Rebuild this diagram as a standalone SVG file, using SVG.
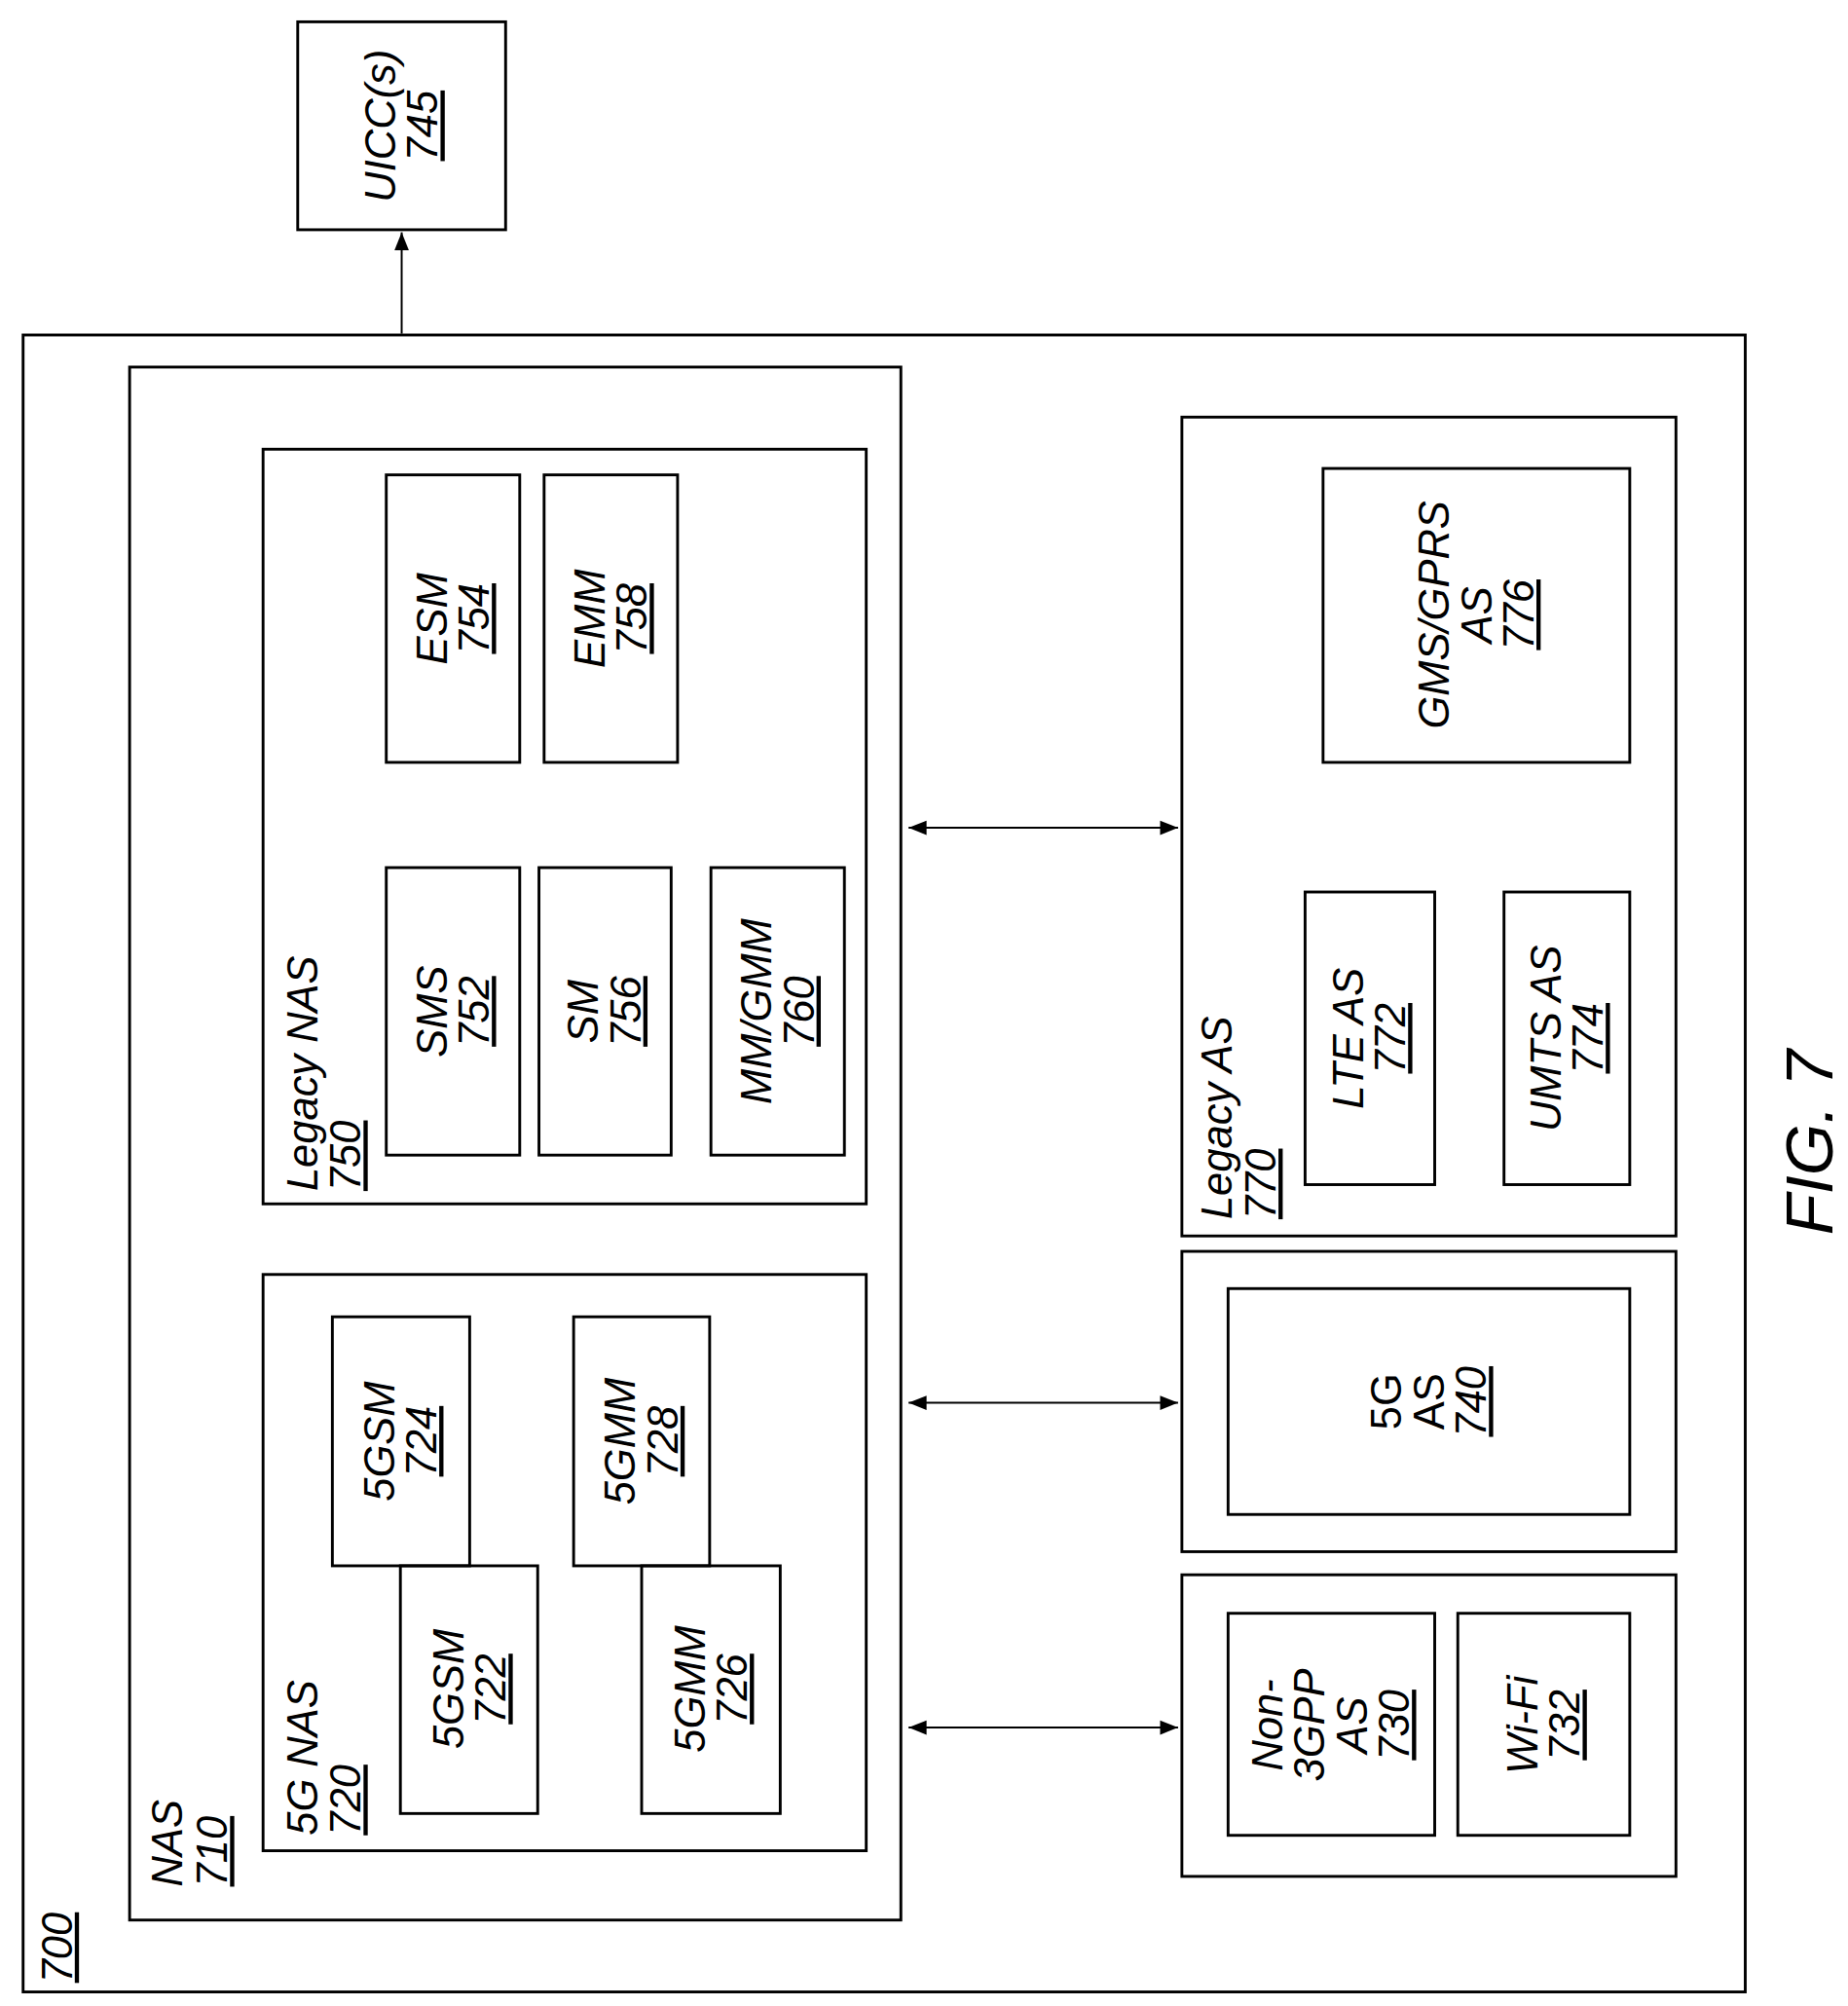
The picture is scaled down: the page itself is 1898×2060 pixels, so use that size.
<svg xmlns="http://www.w3.org/2000/svg" width="1898" height="2060" viewBox="0 0 1898 2060">
<style>
rect{fill:none;stroke:#000;stroke-width:2.2}
text{font-family:"Liberation Sans",Arial,sans-serif;font-style:italic;font-size:33px;fill:#000}
.u{text-decoration:underline}
.c{stroke:#000;stroke-width:1.5;fill:none}
</style>
<defs>
<marker id="a" viewBox="0 0 10 10" refX="10" refY="5" markerWidth="14" markerHeight="14" markerUnits="userSpaceOnUse" orient="auto-start-reverse"><path d="M0,1 L10,5 L0,9 z" fill="#000"/></marker>
</defs>
<rect x="0" y="0" width="1898" height="2060" style="fill:#fff;stroke:none"/>
<g transform="scale(1.318)">
<g id="connectors">
<line class="c" x1="313" y1="260" x2="313" y2="181" marker-end="url(#a)"/>
<line class="c" x1="708" y1="645" x2="918" y2="645" marker-start="url(#a)" marker-end="url(#a)"/>
<line class="c" x1="708" y1="1093" x2="918" y2="1093" marker-start="url(#a)" marker-end="url(#a)"/>
<line class="c" x1="708" y1="1346" x2="918" y2="1346" marker-start="url(#a)" marker-end="url(#a)"/>
</g>
<g id="n745"><rect x="232" y="17" width="162" height="162"/><text transform="translate(313,98) rotate(-90)" text-anchor="middle"><tspan x="0" y="-5">UICC(s)</tspan><tspan class="u" x="0" dy="33">745</tspan></text></g>
<g id="n700"><rect x="18" y="261" width="1342" height="1291"/><text transform="translate(56,1545) rotate(-90)"><tspan class="u">700</tspan></text></g>
<g id="n710"><rect x="101" y="286" width="601" height="1210"/><text transform="translate(0,1470) rotate(-90)"><tspan x="0" y="142">NAS</tspan><tspan class="u" x="0" y="177">710</tspan></text></g>
<g id="n750"><rect x="205" y="350" width="470" height="588"/><text transform="translate(0,928) rotate(-90)"><tspan x="0" y="247">Legacy NAS</tspan><tspan class="u" x="0" y="281">750</tspan></text></g>
<g id="n754"><rect x="301" y="370" width="104" height="224"/><text transform="translate(353,482) rotate(-90)" text-anchor="middle"><tspan x="0" y="-5">ESM</tspan><tspan class="u" x="0" dy="33">754</tspan></text></g>
<g id="n758"><rect x="424" y="370" width="104" height="224"/><text transform="translate(476,482) rotate(-90)" text-anchor="middle"><tspan x="0" y="-5">EMM</tspan><tspan class="u" x="0" dy="33">758</tspan></text></g>
<g id="n752"><rect x="301" y="676" width="104" height="224"/><text transform="translate(353,788) rotate(-90)" text-anchor="middle"><tspan x="0" y="-5">SMS</tspan><tspan class="u" x="0" dy="33">752</tspan></text></g>
<g id="n756"><rect x="420" y="676" width="103" height="224"/><text transform="translate(471,788) rotate(-90)" text-anchor="middle"><tspan x="0" y="-5">SM</tspan><tspan class="u" x="0" dy="33">756</tspan></text></g>
<g id="n760"><rect x="554" y="676" width="104" height="224"/><text transform="translate(606,788) rotate(-90)" text-anchor="middle"><tspan x="0" y="-5">MM/GMM</tspan><tspan class="u" x="0" dy="33">760</tspan></text></g>
<g id="n720"><rect x="205" y="993" width="470" height="449"/><text transform="translate(0,1430) rotate(-90)"><tspan x="0" y="247">5G NAS</tspan><tspan class="u" x="0" y="281">720</tspan></text></g>
<g id="n724"><rect x="259" y="1026" width="107" height="194"/><text transform="translate(312,1123) rotate(-90)" text-anchor="middle"><tspan x="0" y="-5">5GSM</tspan><tspan class="u" x="0" dy="33">724</tspan></text></g>
<g id="n722"><rect x="312" y="1220" width="107" height="193"/><text transform="translate(366,1316) rotate(-90)" text-anchor="middle"><tspan x="0" y="-5">5GSM</tspan><tspan class="u" x="0" dy="33">722</tspan></text></g>
<g id="n728"><rect x="447" y="1026" width="106" height="194"/><text transform="translate(500,1123) rotate(-90)" text-anchor="middle"><tspan x="0" y="-5">5GMM</tspan><tspan class="u" x="0" dy="33">728</tspan></text></g>
<g id="n726"><rect x="500" y="1220" width="108" height="193"/><text transform="translate(554,1316) rotate(-90)" text-anchor="middle"><tspan x="0" y="-5">5GMM</tspan><tspan class="u" x="0" dy="33">726</tspan></text></g>
<g id="n770"><rect x="921" y="325" width="385" height="638"/><text transform="translate(0,950) rotate(-90)"><tspan x="0" y="960">Legacy AS</tspan><tspan class="u" x="0" y="994">770</tspan></text></g>
<g id="n776"><rect x="1031" y="365" width="239" height="229"/><text transform="translate(1150,479) rotate(-90)" text-anchor="middle"><tspan x="0" y="-21">GMS/GPRS</tspan><tspan x="0" dy="33">AS</tspan><tspan class="u" x="0" dy="33">776</tspan></text></g>
<g id="n772"><rect x="1017" y="695" width="101" height="228"/><text transform="translate(1067,809) rotate(-90)" text-anchor="middle"><tspan x="0" y="-5">LTE AS</tspan><tspan class="u" x="0" dy="33">772</tspan></text></g>
<g id="n774"><rect x="1172" y="695" width="98" height="228"/><text transform="translate(1221,809) rotate(-90)" text-anchor="middle"><tspan x="0" y="-5">UMTS AS</tspan><tspan class="u" x="0" dy="33">774</tspan></text></g>
<g id="n740o"><rect x="921" y="975" width="385" height="234"/></g>
<g id="n740"><rect x="957" y="1004" width="313" height="176"/><text transform="translate(1113,1092) rotate(-90)" text-anchor="middle" style="font-style:normal"><tspan x="0" y="-21">5G</tspan><tspan x="0" dy="33">AS</tspan><tspan class="u" x="0" dy="33" style="font-style:italic">740</tspan></text></g>
<g id="n730o"><rect x="921" y="1227" width="385" height="235"/></g>
<g id="n730"><rect x="957" y="1257" width="161" height="173"/><text transform="translate(1037,1344) rotate(-90)" text-anchor="middle"><tspan x="0" y="-38">Non-</tspan><tspan x="0" dy="33">3GPP</tspan><tspan x="0" dy="33">AS</tspan><tspan class="u" x="0" dy="33">730</tspan></text></g>
<g id="n732"><rect x="1136" y="1257" width="134" height="173"/><text transform="translate(1203,1344) rotate(-90)" text-anchor="middle"><tspan x="0" y="-5">Wi-Fi</tspan><tspan class="u" x="0" dy="33">732</tspan></text></g>
<text transform="translate(1428,890) rotate(-90)" text-anchor="middle" style="font-size:52px">FIG. 7</text>
</g>
</svg>
